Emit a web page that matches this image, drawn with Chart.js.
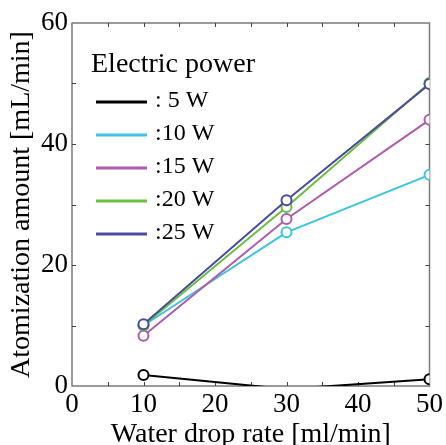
<!DOCTYPE html>
<html lang="en">
<head>
<meta charset="UTF-8">
<title>Atomization amount</title>
<script src="https://cdn.jsdelivr.net/npm/chart.js"></script>
<style>
    body { margin: 0; background: #fff; }
    #grafico { display: block; }
</style>
</head>
<body>
<canvas id="grafico" width="446" height="445"></canvas>
<script>
    // water drop rate [ml/min]
    const dropRate = [10, 30, 50];
    // atomization amount [mL/min] per electric power
    const w5 = [1.8, -0.5, 1.1];
    const w10 = [10.0, 25.4, 34.9];
    const w15 = [8.3, 27.6, 44.0];
    const w20 = [10.0, 29.6, 50.1];
    const w25 = [10.2, 30.7, 49.9];

    const seriesNames = [': 5 W', ':10 W', ':15 W', ':20 W', ':25 W'];
    const seriesData = [w5, w10, w15, w20, w25];
    const seriesColors = ['#000000', '#3cc4e4', '#b05aac', '#6abf3e', '#4b4ba0'];

    const xTicks = [0, 10, 20, 30, 40, 50];
    const yTicks = [0, 20, 40, 60];

    const serif = "'Liberation Serif', 'DejaVu Serif', serif";

    function pontos(valores) {
        return valores.map((v, i) => ({ x: dropRate[i], y: v }));
    }

    const datasets = seriesData.map((valores, i) => ({
        label: seriesNames[i],
        data: pontos(valores),
        borderColor: seriesColors[i],
        backgroundColor: '#ffffff',
        pointBorderColor: seriesColors[i],
        pointBackgroundColor: '#ffffff',
        borderWidth: 2,
        pointBorderWidth: 2,
        // marker hidden when the value falls below the axis
        pointRadius: ctx => (ctx.raw && ctx.raw.y < 0 ? 0 : 5),
        tension: 0,
        order: seriesData.length - i
    }));

    // frame with inward ticks, like the original plot
    const moldura = {
        id: 'moldura',
        beforeDatasetsDraw(chart) {
            const { ctx, chartArea: a, scales } = chart;
            ctx.save();
            ctx.strokeStyle = '#7a7a7a';
            ctx.lineWidth = 1.5;
            ctx.strokeRect(a.left, a.top, a.right - a.left, a.bottom - a.top);

            ctx.strokeStyle = '#444';
            ctx.lineWidth = 1;
            const len = 4;
            for (let v = 5; v < 50; v += 5) {
                const px = Math.round(scales.x.getPixelForValue(v)) + 0.5;
                ctx.beginPath();
                ctx.moveTo(px, a.bottom); ctx.lineTo(px, a.bottom - len);
                ctx.moveTo(px, a.top); ctx.lineTo(px, a.top + len);
                ctx.stroke();
            }
            for (let v = 10; v < 60; v += 10) {
                const py = Math.round(scales.y.getPixelForValue(v)) + 0.5;
                ctx.beginPath();
                ctx.moveTo(a.left, py); ctx.lineTo(a.left + len, py);
                ctx.moveTo(a.right, py); ctx.lineTo(a.right - len, py);
                ctx.stroke();
            }
            ctx.restore();
        }
    };

    // legend drawn inside the plot area
    const legenda = {
        id: 'legenda',
        afterDraw(chart) {
            const { ctx } = chart;
            ctx.save();
            ctx.fillStyle = '#000';
            ctx.textBaseline = 'middle';
            ctx.font = '28px ' + serif;
            ctx.fillText('Electric power', 91, 65);
            ctx.font = '24px ' + serif;
            chart.data.datasets.forEach((ds, i) => {
                const y = 102 + i * 33;
                ctx.strokeStyle = ds.borderColor;
                ctx.lineWidth = 3;
                ctx.beginPath();
                ctx.moveTo(96, y);
                ctx.lineTo(147, y);
                ctx.stroke();
                ctx.fillText(ds.label, 155, y - 1);
            });
            ctx.restore();
        }
    };

    new Chart(document.getElementById('grafico'), {
        type: 'line',
        data: { datasets: datasets },
        options: {
            responsive: false,
            animation: false,
            layout: { padding: { top: 23, right: 12, left: 0, bottom: 0 } },
            plugins: {
                legend: { display: false },
                tooltip: { enabled: false }
            },
            scales: {
                x: {
                    type: 'linear',
                    min: 0,
                    max: 50,
                    afterBuildTicks: s => { s.ticks = xTicks.map(v => ({ value: v })); },
                    afterFit: s => { s.height = 59; },
                    grid: { display: false, drawTicks: false },
                    border: { display: false },
                    ticks: { color: '#000', padding: 3, maxRotation: 0, font: { family: serif, size: 27 } },
                    title: {
                        display: true,
                        text: 'Water drop rate [ml/min]',
                        color: '#000',
                        padding: { top: 0, bottom: 0 },
                        font: { family: serif, size: 28, lineHeight: 0.75 }
                    }
                },
                y: {
                    min: 0,
                    max: 60,
                    afterBuildTicks: s => { s.ticks = yTicks.map(v => ({ value: v })); },
                    afterFit: s => { s.width = 72; },
                    grid: { display: false, drawTicks: false },
                    border: { display: false },
                    ticks: { color: '#000', padding: 4, font: { family: serif, size: 27 } },
                    title: {
                        display: true,
                        text: 'Atomization amount [mL/min]',
                        color: '#000',
                        padding: { top: 8, bottom: 0 },
                        font: { family: serif, size: 28, lineHeight: 1 }
                    }
                }
            }
        },
        plugins: [moldura, legenda]
    });
</script>
</body>
</html>
